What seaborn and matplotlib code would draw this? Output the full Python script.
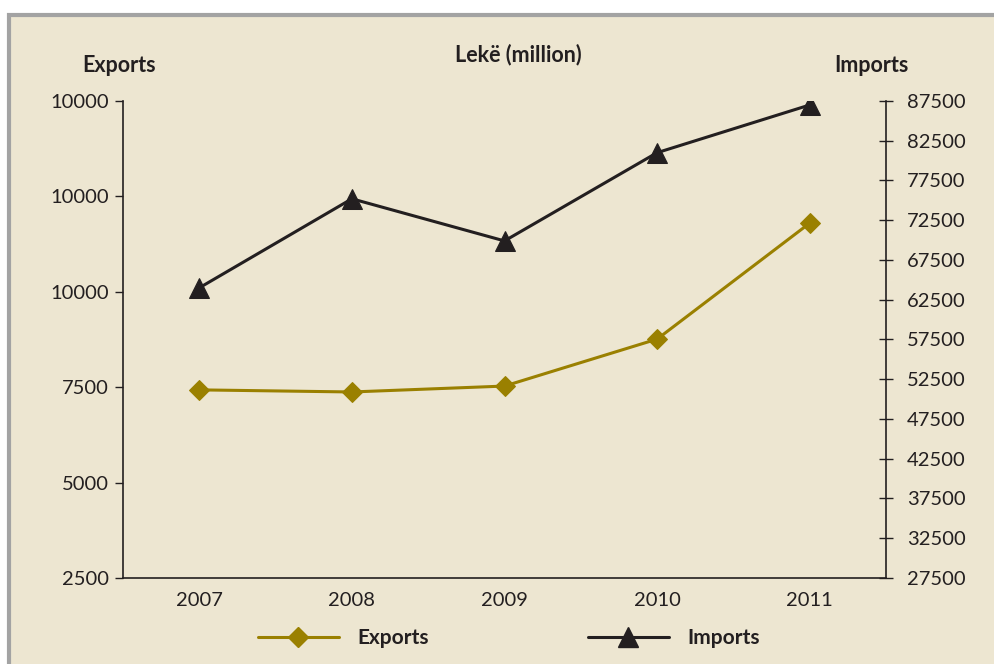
import numpy as np
import pandas as pd
import seaborn as sns
import matplotlib.pyplot as plt
from matplotlib.patches import Rectangle
from matplotlib.lines import Line2D

years = [2007, 2008, 2009, 2010, 2011]
exports = [7430, 7375, 7530, 8760, 11800]
imports = [64000, 75200, 69900, 81000, 87000]

left_ticks = [2500, 5000, 7500, 10000, 12500, 15000]
left_labels = ["2500", "5000", "7500", "10000", "10000", "10000"]
right_ticks = list(range(27500, 87501, 5000))

bg = "#EDE6D1"
olive = "#9A8000"
dark = "#231F20"

sns.set_style("white")
plt.rcParams["font.family"] = ["Lato", "DejaVu Sans"]

fig = plt.figure(figsize=(9.95, 6.64), dpi=100)
fig.patch.set_facecolor("white")
# beige panel with grey frame on top and left
fig.patches.append(Rectangle((9 / 995, -0.1), 1.2, 1.1 - 15 / 664,
                             transform=fig.transFigure, facecolor=bg,
                             edgecolor="#A3A3A3", linewidth=3, zorder=-10))

ax = fig.add_axes([123 / 995, 1 - 578 / 664, 763 / 995, 477 / 664])
ax.patch.set_alpha(0)
ax2 = ax.twinx()
ax2.patch.set_alpha(0)

df = pd.DataFrame({"year": years, "Exports": exports, "Imports": imports})

sns.lineplot(data=df, x="year", y="Exports", ax=ax, color=olive, lw=2.2,
             marker="D", markersize=10, markeredgecolor=olive, legend=False)
sns.lineplot(data=df, x="year", y="Imports", ax=ax2, color=dark, lw=2.2,
             marker="^", markersize=14, markeredgecolor=dark, legend=False)

for a in (ax, ax2):
    a.set_xlim(2006.5, 2011.5)
    a.set_xlabel("")
    a.set_ylabel("")
    a.spines["top"].set_visible(False)
    for s in a.spines.values():
        s.set_color(dark)
        s.set_linewidth(1.2)

ax.set_xticks(np.arange(2006.5, 2011.6, 1))
ax.set_xticks(years, minor=True)
ax.set_xticklabels([])
ax.set_xticklabels([str(y) for y in years], minor=True)
ax.tick_params(axis="x", which="major", direction="inout", length=8, width=1, color=dark)
ax.tick_params(axis="x", which="minor", length=0, pad=10, labelsize=14.5, labelcolor=dark)

ax.set_ylim(2500, 15000)
ax.set_yticks(left_ticks)
ax.set_yticklabels(left_labels)
ax.tick_params(axis="y", direction="out", length=6, width=1, color=dark,
               labelsize=14.5, labelcolor=dark, pad=4, left=True)
ax.spines["right"].set_visible(False)

ax2.set_ylim(27500, 87500)
ax2.set_yticks(right_ticks)
ax2.set_yticklabels([str(t) for t in right_ticks])
ax2.tick_params(axis="y", direction="inout", length=10, width=1, color=dark,
                labelsize=14.5, labelcolor=dark, pad=10, right=True)
ax2.spines["left"].set_visible(False)
ax2.spines["bottom"].set_visible(False)

fig.text(518 / 995, 1 - 55 / 664, "Lekë (million)", ha="center", va="center",
         fontsize=15.5, fontweight="bold", color=dark)
fig.text(119 / 995, 1 - 65 / 664, "Exports", ha="center", va="center",
         fontsize=15.5, fontweight="bold", color=dark)
fig.text(871 / 995, 1 - 65 / 664, "Imports", ha="center", va="center",
         fontsize=15.5, fontweight="bold", color=dark)

handles = [
    Line2D([], [], color=olive, lw=2.2, marker="D", markersize=10),
    Line2D([], [], color=dark, lw=2.2, marker="^", markersize=14),
]
leg = fig.legend(handles, ["Exports", "Imports"], loc="center",
                 bbox_to_anchor=(509 / 995, 1 - 638 / 664), ncol=2, frameon=False,
                 handlelength=3.9, columnspacing=7.6, handletextpad=0.9,
                 prop={"size": 15, "weight": "bold"})
for t in leg.get_texts():
    t.set_color(dark)

fig.savefig("out.png", dpi=100)
